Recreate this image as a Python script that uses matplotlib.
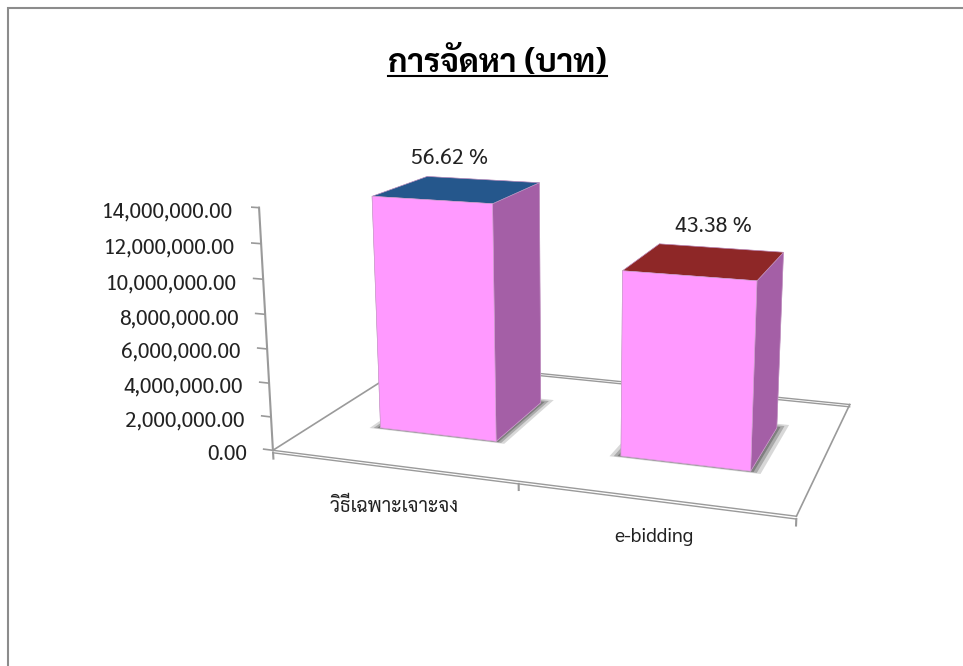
import matplotlib
matplotlib.use('Agg')
import matplotlib.pyplot as plt
from matplotlib.patches import Rectangle
from mpl_toolkits.mplot3d import proj3d
from mpl_toolkits.mplot3d.art3d import Poly3DCollection
import numpy as np

categories = ['วิธีเฉพาะเจาะจง', 'e-bidding']
values = [13950000, 10690000]
percent_labels = ['56.62 %', '43.38 %']
y_ticks = [0, 2000000, 4000000, 6000000, 8000000, 10000000, 12000000, 14000000]
title = 'การจัดหา (บาท)'

W, H = 963, 666
FONTS = ['Sarabun', 'Bai Jamjuree', 'DejaVu Sans']
GREY = '#9a9a9a'
FRONT = '#ff99ff'
SIDE = '#a45fa6'
TOPS = ['#25578c', '#8e2727']

fig = plt.figure(figsize=(W / 100, H / 100), dpi=100)
plt.rcParams['font.family'] = FONTS


def px(x, y):
    return x / W, 1 - y / H


# chart frame, only left and top show in the crop
fig.add_artist(Rectangle(px(8, 800), 1200 / W, 792 / H, transform=fig.transFigure,
                         fill=False, ec='#8c8c8c', lw=1.5))

aspect = (498, 314, 233)
side = 657 * np.linalg.norm(aspect) / 659
ax = fig.add_axes([(566.5 - side / 2) / W, (H - 321.5 - side / 2) / H, side / W, side / H], projection='3d')
ax.set_axis_off()
ax.patch.set_alpha(0)
ax.computed_zorder = False
ax.set_proj_type('persp', focal_length=0.414)
ax.view_init(elev=14.6, azim=-71.3)
ax.set_box_aspect(aspect, zoom=1)
ax.set_xlim(0, 2)
ax.set_ylim(0, 1)
ax.set_zlim(0, 14000000)

# floor, doubled along front and back like a thin slab
dz = -150000
for z in (0, dz):
    ax.plot([0, 2], [0, 0], [z, z], color=GREY, lw=1, zorder=1)
    ax.plot([0, 2], [1, 1], [z, z], color=GREY, lw=1, zorder=1)
ax.plot([0, 0], [0, 1], [0, 0], color=GREY, lw=1.2, zorder=1)
ax.plot([2, 2], [0, 1], [0, 0], color=GREY, lw=1.2, zorder=1)

# value axis and ticks
ax.plot([0, 0], [0, 0], [0, 14000000], color=GREY, lw=1.5, zorder=1)
proj = ax.get_proj()
for t in y_ticks:
    ax.plot([-0.04, 0], [0, 0], [t, t], color=GREY, lw=1.2, zorder=1)
    # label placed in pixels from the projected tick end
    xs, ys, _ = proj3d.proj_transform(-0.04, 0, t, proj)
    tx, ty = ax.transData.transform((xs, ys))
    fig.text((tx - 17) / W, (ty - 5) / H, f'{t:,.2f}', ha='right', va='center', fontsize=15.2,
             color='#222222', family=FONTS)

# category ticks
for t in (0, 1, 2):
    ax.plot([t, t], [0, 0], [dz, -500000], color=GREY, lw=1.5, zorder=1)

bar_w = 0.495
bar_d = 0.4
for i, v in enumerate(values):
    x0 = i + 0.272
    y0 = 0.29
    # soft shadow under the bar
    for grow, a in ((0.04, 0.2), (0.025, 0.3), (0.012, 0.4)):
        foot = [(x0 - grow, y0 - grow / 3, 0), (x0 + bar_w + grow, y0 - grow / 3, 0),
                (x0 + bar_w + grow, y0 + bar_d + grow, 0), (x0 - grow, y0 + bar_d + grow, 0)]
        ax.add_collection3d(Poly3DCollection([foot], facecolors=(0.25, 0.25, 0.25, a), edgecolors='none', zorder=2))
    ax.bar3d(x0, y0, 0, bar_w, bar_d, v, shade=False, zorder=3,
             color=[FRONT, TOPS[i], FRONT, SIDE, SIDE, SIDE], edgecolor='#c9a0c9', linewidth=0.4)

fig.text(*px(497, 63), title, ha='center', va='center', fontsize=23.5, fontweight='bold', color='black', family=FONTS)
fig.add_artist(plt.Line2D([388 / W, 607 / W], [1 - 76 / H, 1 - 76 / H], color='black', lw=1.5))
fig.text(*px(450, 159), percent_labels[0], ha='center', va='center', fontsize=15.4, color='#222222', family=FONTS)
fig.text(*px(713.5, 226), percent_labels[1], ha='center', va='center', fontsize=15.4, color='#222222', family=FONTS)
fig.text(*px(394, 506), categories[0], ha='center', va='center', fontsize=14, color='#222222', family=FONTS)
fig.text(*px(654, 537), categories[1], ha='center', va='center', fontsize=14, color='#222222', family=FONTS)

fig.savefig('out.png', dpi=100)
